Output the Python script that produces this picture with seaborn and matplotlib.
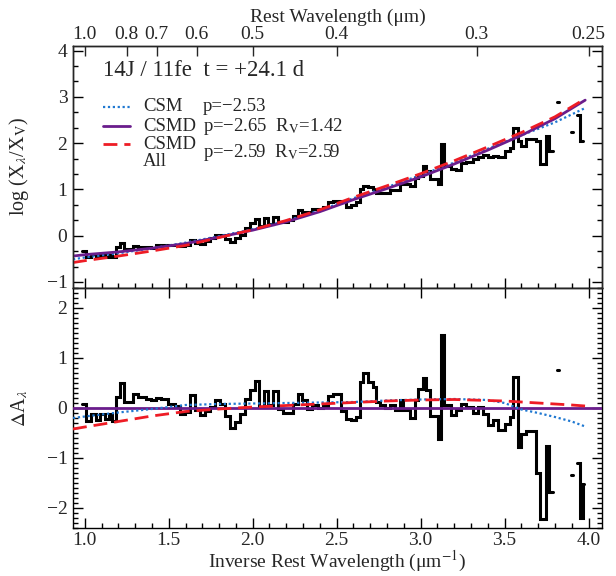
import numpy as np
import matplotlib
matplotlib.use('Agg')
import matplotlib.pyplot as plt
import seaborn as sns
from matplotlib.ticker import MultipleLocator, FixedLocator, NullLocator
from matplotlib.lines import Line2D

# ---------------- data ----------------
# bin edges in inverse rest wavelength (1/um), shared by both panels
bin_edges = [0.986, 1.006, 1.039, 1.065, 1.089, 1.119, 1.145, 1.164, 1.184, 1.208,
             1.232, 1.288, 1.317, 1.367, 1.397, 1.426, 1.456, 1.496, 1.536, 1.565,
             1.595, 1.625, 1.655, 1.684, 1.714, 1.744, 1.774, 1.803, 1.833, 1.863,
             1.893, 1.922, 1.952, 1.982, 2.012, 2.038, 2.065, 2.091, 2.121, 2.151,
             2.180, 2.210, 2.240, 2.270, 2.295, 2.325, 2.355, 2.389, 2.418, 2.448,
             2.478, 2.528, 2.553, 2.585, 2.617, 2.637, 2.657, 2.687, 2.717, 2.736,
             2.756, 2.786, 2.816, 2.845, 2.875, 2.895, 2.935, 2.964, 2.984, 3.014,
             3.034, 3.054, 3.103, 3.123, 3.137, 3.183, 3.213, 3.242, 3.272, 3.312,
             3.342, 3.371, 3.401, 3.431, 3.461, 3.500, 3.530, 3.550, 3.580, 3.599,
             3.629, 3.689, 3.713, 3.744, 3.764, 3.788, 3.815, 3.825, 3.897, 3.908,
             3.930, 3.947, 3.965, 3.975]
nan = float('nan')
# observed log(X_lambda / X_V) per bin
obs_logx = [-0.34, -0.45, -0.40, -0.46, -0.41, -0.45, -0.41, -0.46, -0.25, -0.15,
            -0.28, -0.22, -0.24, -0.25, -0.26, -0.21, -0.19, -0.19, -0.21, -0.23,
            -0.21, -0.10, -0.16, -0.17, -0.12, -0.06, 0.02, 0.01, -0.07, -0.14,
            -0.06, 0.02, 0.17, 0.27, 0.37, 0.20, 0.38, 0.25, 0.41, 0.30,
            0.30, 0.33, 0.43, 0.55, 0.52, 0.52, 0.57, 0.57, 0.62, 0.72,
            0.76, 0.72, 0.63, 0.66, 0.72, 1.00, 1.08, 1.05, 1.02, 0.93,
            0.92, 0.93, 0.98, 0.98, 1.14, 1.12, 1.07, 1.25, 1.30, 1.50,
            1.40, 1.22, 1.12, 1.98, 1.50, 1.45, 1.43, 1.58, 1.60, 1.66,
            1.70, 1.75, 1.70, 1.72, 1.71, 1.82, 1.90, 2.33, 2.04, 1.93,
            2.08, 2.04, 1.55, 2.16, 1.84, nan, 2.90, nan, 2.25, nan,
            2.60, 2.05, nan]
# residual Delta A_lambda per bin
obs_resid = [0.09, -0.26, -0.12, -0.23, -0.11, -0.21, -0.12, -0.25, 0.23, 0.51,
             0.13, 0.28, 0.23, 0.19, 0.16, 0.21, 0.18, 0.09, 0.05, -0.11,
             -0.07, 0.26, -0.04, -0.14, -0.06, 0.03, 0.17, 0.09, -0.16, -0.39,
             -0.27, -0.12, 0.19, 0.36, 0.55, 0.03, 0.34, 0.06, 0.35, -0.01,
             -0.09, -0.09, 0.09, 0.28, 0.17, -0.01, 0.06, 0.01, 0.04, 0.25,
             0.28, -0.05, -0.22, -0.24, -0.17, 0.53, 0.71, 0.53, 0.43, 0.13,
             0.06, 0.01, 0.06, -0.04, 0.16, -0.04, -0.19, 0.16, 0.39, 0.61,
             0.36, -0.16, -0.61, 1.47, 0.06, -0.14, -0.04, 0.09, 0.03, -0.09,
             0.03, -0.11, -0.34, -0.24, -0.43, -0.31, -0.17, 0.63, -0.77, -0.51,
             -0.45, -1.29, -2.21, -0.76, -1.67, nan, 0.76, nan, -1.34, nan,
             -1.09, -2.19, -1.51]

# model curves, top panel
model_x = [0.93, 1.0, 1.2, 1.4, 1.6, 1.8, 2.0, 2.2, 2.4, 2.6, 2.8, 3.0, 3.2, 3.4, 3.6, 3.8, 3.98]
csm_top = [-0.51, -0.47, -0.38, -0.27, -0.15, -0.01, 0.14, 0.32, 0.55, 0.81, 1.05, 1.31, 1.58, 1.88, 2.17, 2.45, 2.76]
csmd_top = [-0.44, -0.41, -0.35, -0.27, -0.17, -0.03, 0.12, 0.30, 0.52, 0.78, 1.02, 1.27, 1.55, 1.85, 2.17, 2.53, 2.93]
csmd_all_top = [-0.58, -0.54, -0.44, -0.33, -0.21, -0.04, 0.13, 0.33, 0.56, 0.83, 1.08, 1.34, 1.62, 1.92, 2.23, 2.57, 2.96]
# model curves, residual panel
res_x = [0.93, 1.0, 1.2, 1.4, 1.6, 1.8, 2.0, 2.2, 2.4, 2.6, 2.8, 3.0, 3.2, 3.4, 3.5, 3.6, 3.7, 3.8, 3.9, 3.98]
csm_res = [-0.20, -0.17, -0.09, -0.02, 0.06, 0.08, 0.09, 0.10, 0.11, 0.12, 0.15, 0.17, 0.18, 0.16, 0.10, -0.03, -0.10, -0.18, -0.27, -0.37]
csmd_all_res = [-0.42, -0.38, -0.27, -0.16, -0.07, -0.02, 0.02, 0.05, 0.08, 0.11, 0.14, 0.16, 0.17, 0.15, 0.14, 0.12, 0.10, 0.08, 0.06, 0.04]
csmd_res_level = 0.0

# top axis: rest wavelength tick labels (um)
wave_ticks = [1.0, 0.8, 0.7, 0.6, 0.5, 0.4, 0.3, 0.25]
wave_labels = ['1.0', '0.8', '0.7', '0.6', '0.5', '0.4', '0.3', '0.25']

legend_names = ['CSM', 'CSMD', 'CSMD', 'All']
legend_params = ['p=\u22122.53', 'p=\u22122.65  R$_\\mathrm{V}$=1.42', 'p=\u22122.59  R$_\\mathrm{V}$=2.59']
title_text = '14J / 11fe  t = +24.1 d'

# ---------------- styling ----------------
sns.set_style('ticks')
plt.rcParams['font.family'] = ['Liberation Serif', 'DejaVu Serif']
plt.rcParams['mathtext.fontset'] = 'stix'
plt.rcParams['axes.unicode_minus'] = True
plt.rcParams['axes.linewidth'] = 1.0

BLUE = '#1f78d1'
PURPLE = '#6a1d8c'
RED = '#ee1c25'
TICK_FS = 14
LABEL_FS = 14.5
XLAB_FS = 14
LEG_FS = 13.5

fig = plt.figure(figsize=(6.16, 5.76), dpi=100)
L, R = 73 / 616, 602 / 616
ax1 = fig.add_axes([L, 1 - 288 / 576, R - L, (288 - 46) / 576])
ax2 = fig.add_axes([L, 1 - 528 / 576, R - L, (528 - 288) / 576], sharex=ax1)


def step_xy(edges, vals):
    xs, ys = [], []
    for i, v in enumerate(vals):
        xs += [edges[i], edges[i + 1]]
        ys += [v, v]
    return xs, ys


DOT = (0, (1, 1.2))
DASH = (0, (5, 2.5))

# ---- top panel ----
sx, sy = step_xy(bin_edges, obs_logx)
ax1.plot(sx, sy, color='black', lw=2.2, solid_joinstyle='miter', zorder=2)
sns.lineplot(x=model_x, y=csm_top, ax=ax1, color=BLUE, linestyle=DOT, lw=1.6,
             sort=False, estimator=None, zorder=3)
sns.lineplot(x=model_x, y=csmd_top, ax=ax1, color=PURPLE, lw=2.0,
             sort=False, estimator=None, zorder=3)
sns.lineplot(x=model_x, y=csmd_all_top, ax=ax1, color=RED, linestyle=DASH, lw=2.0,
             sort=False, estimator=None, zorder=4)

# ---- bottom panel ----
rx, ry = step_xy(bin_edges, obs_resid)
ax2.plot(rx, ry, color='black', lw=2.2, solid_joinstyle='miter', zorder=2)
ax2.axhline(csmd_res_level, color=PURPLE, lw=2.0, zorder=3)
sns.lineplot(x=res_x, y=csm_res, ax=ax2, color=BLUE, linestyle=DOT, lw=1.6,
             sort=False, estimator=None, zorder=3)
sns.lineplot(x=res_x, y=csmd_all_res, ax=ax2, color=RED, linestyle=DASH, lw=2.0,
             sort=False, estimator=None, zorder=4)

# ---- limits & ticks ----
ax1.set_xlim(0.93, 4.08)
ax1.set_ylim(-1.13, 4.1)
ax2.set_ylim(-2.4, 2.4)

for ax in (ax1, ax2):
    ax.set_facecolor('white')
    ax.grid(False)
    for s in ax.spines.values():
        s.set_visible(True)
        s.set_color('black')
        s.set_linewidth(1.0)
    ax.xaxis.set_major_locator(MultipleLocator(0.5))
    ax.xaxis.set_minor_locator(MultipleLocator(0.1))
    ax.yaxis.set_major_locator(MultipleLocator(1))
    ax.tick_params(which='major', direction='in', length=7, width=1, labelsize=TICK_FS, color='black')
    ax.tick_params(which='minor', direction='in', length=3.5, width=1, color='black')
    ax.tick_params(axis='y', which='both', left=True, right=True, pad=4)

ax1.yaxis.set_minor_locator(MultipleLocator(1 / 3))
ax2.yaxis.set_minor_locator(MultipleLocator(0.1))
ax1.tick_params(axis='x', which='both', top=False, bottom=True, labelbottom=False)
ax2.tick_params(axis='x', which='major', top=True, bottom=True, labelbottom=True, pad=3)
ax2.tick_params(axis='x', which='minor', top=False, bottom=True)

ax1.set_xlabel('')
ax1.set_ylabel('log (X$_\\lambda$/X$_\\mathrm{V}$)', fontsize=LABEL_FS)
ax2.set_ylabel('$\\Delta$A$_\\lambda$', fontsize=LABEL_FS)
ax2.set_xlabel('Inverse Rest Wavelength (\u03bcm$^{-1}$)', fontsize=XLAB_FS, labelpad=0)
ax1.yaxis.set_label_coords(-0.08, 0.5)
ax2.yaxis.set_label_coords(-0.08, 0.5)

# top wavelength axis
axt = ax1.twiny()
axt.set_xlim(ax1.get_xlim())
axt.xaxis.set_major_locator(FixedLocator([1.0 / w for w in wave_ticks]))
axt.xaxis.set_minor_locator(NullLocator())
axt.set_xticklabels(wave_labels)
axt.tick_params(axis='x', which='major', direction='in', length=7, width=1, labelsize=TICK_FS, pad=2)
axt.set_xlabel('Rest Wavelength (\u03bcm)', fontsize=XLAB_FS, labelpad=3)
axt.grid(False)

# ---- title & legend ----
ax1.text(0.057, 0.90, title_text, transform=ax1.transAxes, fontsize=16.5, va='center', ha='left')
leg_y = [0.748, 0.669, 0.595]
leg_styles = [dict(color=BLUE, linestyle=DOT, lw=1.6),
              dict(color=PURPLE, lw=2.0),
              dict(color=RED, linestyle=DASH, lw=2.0)]
for yy, st in zip(leg_y, leg_styles):
    ax1.add_line(Line2D([0.057, 0.108], [yy, yy], transform=ax1.transAxes, **st))
ax1.text(0.132, leg_y[0], legend_names[0], transform=ax1.transAxes, fontsize=LEG_FS, va='center')
ax1.text(0.132, leg_y[1], legend_names[1], transform=ax1.transAxes, fontsize=LEG_FS, va='center')
ax1.text(0.132, leg_y[2], legend_names[2], transform=ax1.transAxes, fontsize=LEG_FS, va='center')
ax1.text(0.132, 0.522, legend_names[3], transform=ax1.transAxes, fontsize=LEG_FS, va='center')
ax1.text(0.246, leg_y[0], legend_params[0], transform=ax1.transAxes, fontsize=LEG_FS, va='center')
ax1.text(0.246, leg_y[1], legend_params[1], transform=ax1.transAxes, fontsize=LEG_FS, va='center')
ax1.text(0.246, 0.560, legend_params[2], transform=ax1.transAxes, fontsize=LEG_FS, va='center')

fig.savefig('out.png', dpi=100, facecolor='white')
